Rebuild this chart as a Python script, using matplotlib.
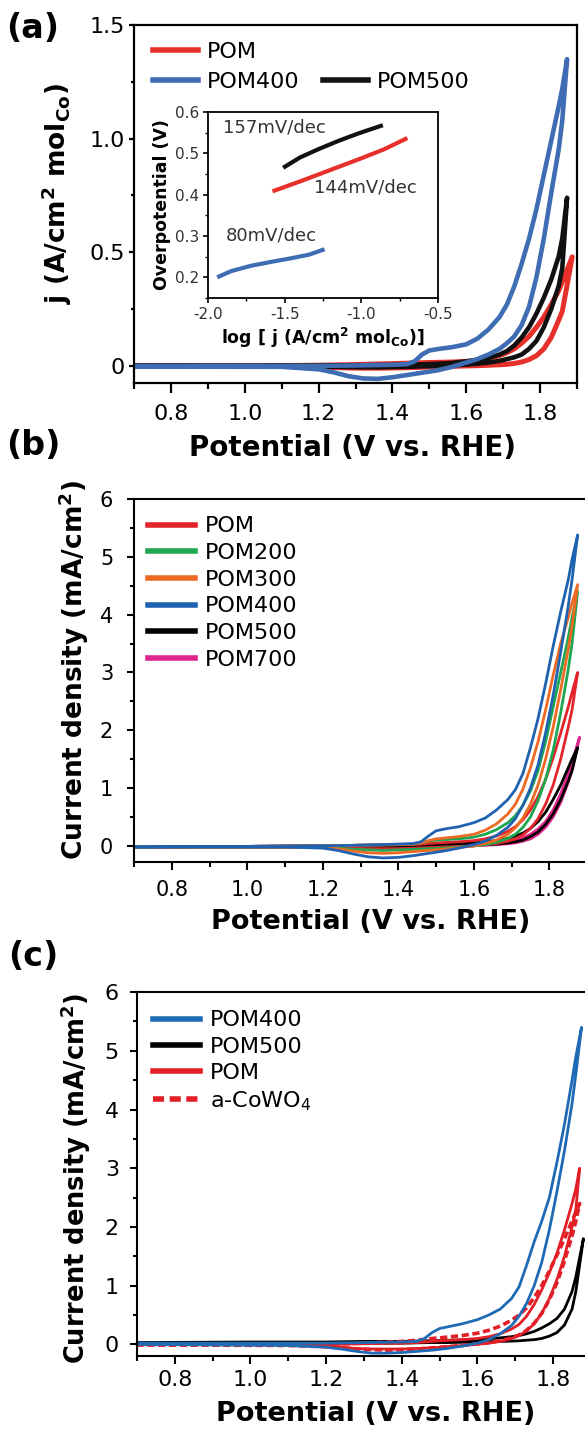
import numpy as np
import matplotlib
matplotlib.use("Agg")
import matplotlib.pyplot as plt
from matplotlib.lines import Line2D
from matplotlib.ticker import MultipleLocator

plt.rcParams['axes.unicode_minus'] = False
plt.rcParams['font.family'] = ['DejaVu Sans']

# potentials (V vs. RHE) of the anodic and cathodic sweeps
E_FWD = [0.70, 1.00, 1.20, 1.30, 1.40, 1.44, 1.46, 1.48, 1.50, 1.53,
         1.56, 1.60, 1.63, 1.66, 1.69, 1.71, 1.73, 1.75, 1.77, 1.79,
         1.81, 1.83, 1.85, 1.86]
E_REV = [1.86, 1.85, 1.83, 1.81, 1.79, 1.77, 1.75, 1.73, 1.71, 1.69,
         1.66, 1.63, 1.60, 1.56, 1.52, 1.48, 1.44, 1.40, 1.36, 1.32,
         1.28, 1.24, 1.20, 1.10, 0.70]

# (a) normalised CVs, A/cm2 molCo  (order: POM, POM500, POM400)
A_LABELS = ["POM", "POM500", "POM400"]
A_COLORS = ["#e8302a", "#111111", "#3f6db3"]
A_FWD = [
    [0.0, 0.0, 0.003, 0.006, 0.01, 0.012, 0.013, 0.014, 0.015, 0.016,
     0.017, 0.02, 0.025, 0.032, 0.045, 0.058, 0.075, 0.1, 0.13, 0.17,
     0.215, 0.27, 0.33, 0.37],
    [0.0, 0.0, 0.002, 0.003, 0.004, 0.005, 0.006, 0.007, 0.008, 0.01,
     0.013, 0.02, 0.026, 0.035, 0.05, 0.065, 0.09, 0.125, 0.17, 0.23,
     0.3, 0.38, 0.48, 0.56],
    [0.0, 0.0, 0.0, 0.002, 0.005, 0.008, 0.02, 0.05, 0.068, 0.076,
     0.082, 0.095, 0.12, 0.16, 0.215, 0.27, 0.35, 0.45, 0.56, 0.69,
     0.84, 0.99, 1.14, 1.22],
]
A_REV = [
    [0.24, 0.2, 0.125, 0.075, 0.045, 0.028, 0.017, 0.011, 0.007, 0.005,
     0.003, 0.001, 0.0, -0.002, -0.004, -0.006, -0.008, -0.009, -0.01,
     -0.01, -0.009, -0.007, -0.005, -0.002, 0.0],
    [0.43, 0.35, 0.25, 0.17, 0.11, 0.075, 0.05, 0.038, 0.03, 0.022,
     0.015, 0.01, 0.006, 0.002, 0.0, -0.002, -0.004, -0.005, -0.006,
     -0.006, -0.005, -0.004, -0.003, -0.001, 0.0],
    [1.08, 0.95, 0.76, 0.56, 0.39, 0.26, 0.18, 0.13, 0.1, 0.075,
     0.05, 0.03, 0.015, -0.005, -0.02, -0.03, -0.04, -0.05, -0.057,
     -0.055, -0.045, -0.028, -0.015, -0.004, -0.003],
]
A_VERTEX_E = [1.887, 1.873, 1.873]
A_VERTEX_J = [0.48, 0.74, 1.35]

# (a) inset, Tafel plots
TAFEL_LOGJ = [
    [-1.58, -1.40, -1.20, -1.00, -0.85, -0.70],
    [-1.51, -1.40, -1.28, -1.15, -1.02, -0.86],
    [-1.94, -1.85, -1.72, -1.58, -1.46, -1.34, -1.24],
]
TAFEL_ETA = [
    [0.408, 0.432, 0.46, 0.488, 0.51, 0.537],
    [0.465, 0.49, 0.51, 0.53, 0.548, 0.568],
    [0.20, 0.215, 0.228, 0.238, 0.246, 0.255, 0.268],
]
TAFEL_SLOPES = ["144mV/dec", "157mV/dec", "80mV/dec"]

# (b) CVs of the annealed series, mA/cm2
B_LABELS = ["POM", "POM200", "POM300", "POM400", "POM500", "POM700"]
B_COLORS = ["#e3242b", "#1ea650", "#ee6a24", "#1f63b0", "#000000", "#e0258c"]
B_FWD = [
    [-0.02, -0.01, 0.0, 0.01, 0.02, 0.025, 0.03, 0.04, 0.05, 0.06,
     0.07, 0.09, 0.12, 0.17, 0.25, 0.33, 0.45, 0.62, 0.85, 1.15,
     1.52, 1.95, 2.4, 2.65],
    [-0.02, -0.01, 0.0, 0.01, 0.02, 0.03, 0.05, 0.08, 0.1, 0.11,
     0.12, 0.15, 0.2, 0.28, 0.4, 0.52, 0.7, 0.95, 1.3, 1.8,
     2.4, 3.0, 3.6, 3.95],
    [-0.02, -0.01, 0.0, 0.01, 0.02, 0.03, 0.05, 0.09, 0.12, 0.14,
     0.16, 0.2, 0.27, 0.38, 0.55, 0.72, 0.98, 1.35, 1.8, 2.35,
     2.95, 3.5, 3.95, 4.2],
    [-0.02, -0.01, 0.0, 0.01, 0.03, 0.04, 0.07, 0.17, 0.26, 0.3,
     0.33, 0.4, 0.48, 0.62, 0.8, 0.97, 1.25, 1.7, 2.2, 2.8,
     3.45, 4.05, 4.6, 4.95],
    [-0.02, -0.01, 0.0, 0.01, 0.01, 0.015, 0.02, 0.02, 0.025, 0.03,
     0.035, 0.05, 0.07, 0.09, 0.13, 0.17, 0.22, 0.3, 0.42, 0.58,
     0.8, 1.05, 1.35, 1.5],
    [-0.02, -0.01, 0.0, 0.0, 0.0, 0.005, 0.01, 0.01, 0.01, 0.015,
     0.02, 0.03, 0.04, 0.055, 0.08, 0.1, 0.14, 0.2, 0.29, 0.42,
     0.62, 0.9, 1.25, 1.45],
]
B_REV = [
    [2.35, 2.05, 1.5, 1.05, 0.72, 0.47, 0.3, 0.19, 0.12, 0.08,
     0.04, 0.02, 0.0, -0.01, -0.02, -0.03, -0.04, -0.05, -0.05,
     -0.05, -0.04, -0.03, -0.02, -0.02, -0.02],
    [3.5, 3.05, 2.3, 1.65, 1.15, 0.78, 0.5, 0.32, 0.2, 0.13,
     0.06, 0.02, 0.0, -0.02, -0.04, -0.05, -0.06, -0.07, -0.08,
     -0.07, -0.06, -0.04, -0.03, -0.02, -0.02],
    [3.8, 3.4, 2.7, 2.05, 1.5, 1.05, 0.72, 0.48, 0.31, 0.2,
     0.1, 0.04, 0.0, -0.03, -0.06, -0.08, -0.1, -0.12, -0.13,
     -0.12, -0.09, -0.05, -0.03, -0.02, -0.02],
    [4.6, 4.15, 3.35, 2.6, 1.95, 1.4, 1.0, 0.7, 0.47, 0.32,
     0.18, 0.08, 0.02, -0.04, -0.09, -0.13, -0.17, -0.2, -0.21,
     -0.19, -0.14, -0.08, -0.04, -0.02, -0.02],
    [1.3, 1.12, 0.8, 0.55, 0.37, 0.24, 0.16, 0.1, 0.07, 0.05,
     0.03, 0.02, 0.015, 0.01, 0.005, 0.0, 0.0, -0.01, -0.01,
     -0.01, -0.01, -0.01, -0.02, -0.02, -0.02],
    [1.3, 1.1, 0.75, 0.5, 0.32, 0.2, 0.12, 0.08, 0.05, 0.035,
     0.02, 0.01, 0.0, 0.0, -0.01, -0.01, -0.01, -0.01, -0.01,
     -0.01, -0.01, -0.01, -0.02, -0.02, -0.02],
]
B_VERTEX_E = [1.875, 1.875, 1.875, 1.875, 1.875, 1.88]
B_VERTEX_J = [3.0, 4.4, 4.52, 5.38, 1.7, 1.88]
B_ORDER = [5, 4, 0, 1, 2, 3]

# (c) comparison with amorphous CoWO4, mA/cm2
C_LABELS = ["POM400", "POM500", "POM", "a-CoWO$_4$"]
C_COLORS = ["#1f6ab4", "#000000", "#e21f26", "#e21f26"]
C_STYLES = ["-", "-", "-", (0, (2, 1))]
C_FWD = [
    [0.02, 0.02, 0.02, 0.03, 0.04, 0.05, 0.1, 0.2, 0.27, 0.31,
     0.35, 0.42, 0.5, 0.6, 0.78, 0.98, 1.35, 1.75, 2.1, 2.5,
     3.1, 3.75, 4.5, 4.9],
    [0.03, 0.04, 0.04, 0.05, 0.05, 0.055, 0.06, 0.06, 0.065, 0.07,
     0.075, 0.085, 0.095, 0.11, 0.13, 0.15, 0.18, 0.22, 0.28, 0.35,
     0.44, 0.6, 0.9, 1.15],
    [0.0, 0.0, 0.0, 0.01, 0.02, 0.03, 0.04, 0.05, 0.06, 0.07,
     0.08, 0.1, 0.13, 0.18, 0.26, 0.34, 0.48, 0.68, 0.93, 1.22,
     1.55, 1.95, 2.4, 2.65],
    [0.0, 0.0, 0.0, 0.02, 0.05, 0.07, 0.08, 0.1, 0.11, 0.13,
     0.15, 0.19, 0.24, 0.31, 0.41, 0.5, 0.62, 0.8, 1.0, 1.25,
     1.52, 1.8, 2.1, 2.25],
]
C_REV = [
    [4.6, 4.1, 3.3, 2.6, 1.95, 1.4, 1.0, 0.7, 0.48, 0.32,
     0.18, 0.08, 0.02, -0.03, -0.07, -0.1, -0.12, -0.14, -0.15,
     -0.15, -0.12, -0.08, -0.05, -0.02, 0.0],
    [0.9, 0.6, 0.33, 0.2, 0.14, 0.1, 0.08, 0.07, 0.06, 0.055,
     0.05, 0.045, 0.04, 0.035, 0.03, 0.03, 0.025, 0.02, 0.02,
     0.02, 0.02, 0.02, 0.02, 0.02, 0.01],
    [2.3, 2.0, 1.5, 1.1, 0.78, 0.53, 0.35, 0.23, 0.15, 0.1,
     0.05, 0.02, 0.0, -0.02, -0.04, -0.06, -0.07, -0.08, -0.08,
     -0.08, -0.07, -0.05, -0.03, -0.01, 0.0],
    [2.1, 1.85, 1.42, 1.05, 0.76, 0.53, 0.36, 0.24, 0.16, 0.11,
     0.06, 0.03, 0.01, -0.02, -0.04, -0.06, -0.08, -0.09, -0.1,
     -0.09, -0.08, -0.06, -0.04, -0.02, -0.01],
]
C_VERTEX_E = [1.875, 1.88, 1.87, 1.87]
C_VERTEX_J = [5.4, 1.8, 3.0, 2.4]
C_ORDER = [1, 3, 2, 0]

X_TICKS = [0.8, 1.0, 1.2, 1.4, 1.6, 1.8]


def cv_loop(fwd, rev, e_vertex, j_vertex):
    """Join anodic sweep, vertex and cathodic sweep into one closed trace."""
    e = np.concatenate([E_FWD, [e_vertex], E_REV])
    j = np.concatenate([fwd, [j_vertex], rev])
    return e, j


def style_axes(ax, xmaj, xmin, ymaj, ymin, lw=1.5):
    for s in ax.spines.values():
        s.set_linewidth(lw)
    ax.tick_params(axis='x', which='major', direction='out', length=xmaj,
                   width=lw, labelsize=15, pad=6)
    ax.tick_params(axis='x', which='minor', direction='out', length=xmin,
                   width=lw)
    ax.tick_params(axis='y', which='major', direction='out', length=ymaj,
                   width=lw, labelsize=15)
    ax.tick_params(axis='y', which='minor', direction='out', length=ymin,
                   width=lw)
    ax.set_xlim(0.7, 1.9)
    ax.set_xticks(X_TICKS, [f"{t:.1f}" for t in X_TICKS])
    ax.xaxis.set_minor_locator(MultipleLocator(0.1))


fig = plt.figure(figsize=(5.85, 14.3), dpi=100)

# ---------------- (a) ----------------
ax_a = fig.add_axes([0.2291, 0.7322, 0.7573, 0.2503])
for i in range(3):
    e, j = cv_loop(A_FWD[i], A_REV[i], A_VERTEX_E[i], A_VERTEX_J[i])
    ax_a.plot(e, j, color=A_COLORS[i], lw=3.6 if i == 0 else 3.3,
              solid_joinstyle='round')
style_axes(ax_a, 7, 4, 3.5, 2, lw=1.6)
ax_a.tick_params(axis='both', which='major', labelsize=16)
ax_a.tick_params(axis='y', pad=3)
ax_a.tick_params(axis='x', pad=8)
ax_a.set_ylim(-0.075, 1.5)
ax_a.set_yticks([0, 0.5, 1.0, 1.5], ["0", "0.5", "1.0", "1.5"])
ax_a.yaxis.set_minor_locator(MultipleLocator(0.25))
ax_a.set_xlabel("Potential (V vs. RHE)", fontsize=20, fontweight='bold',
                va='center')
ax_a.xaxis.set_label_coords(0.494, -0.182)
ax_a.set_ylabel(r"j (A/cm$^{\mathbf{2}}$ mol$_{\mathbf{Co}}$)", fontsize=19,
                fontweight='bold', va='center')
ax_a.yaxis.set_label_coords(-0.174, 0.528)

leg_handles = [Line2D([], [], color=A_COLORS[0], lw=4),
               Line2D([], [], color=A_COLORS[2], lw=4),
               Line2D([], [], color='none'),
               Line2D([], [], color=A_COLORS[1], lw=4)]
leg_labels = ["POM", "POM400", "", "POM500"]
ax_a.legend(leg_handles, leg_labels, ncol=2, loc='upper left',
            bbox_to_anchor=(0.043, 0.952), frameon=False, fontsize=16,
            handlelength=2.0, handletextpad=0.4, columnspacing=1.1,
            labelspacing=0.45, borderpad=0, borderaxespad=0)

# inset with Tafel slopes
ax_in = fig.add_axes([0.3556, 0.7916, 0.3932, 0.1301])
for i in range(3):
    ax_in.plot(TAFEL_LOGJ[i], TAFEL_ETA[i], color=A_COLORS[i], lw=3,
               solid_capstyle='butt')
ax_in.set_xlim(-2.0, -0.5)
ax_in.set_ylim(0.15, 0.6)
ax_in.set_xticks([-2.0, -1.5, -1.0, -0.5])
ax_in.set_yticks([0.2, 0.3, 0.4, 0.5, 0.6])
ax_in.xaxis.set_minor_locator(MultipleLocator(0.25))
ax_in.yaxis.set_minor_locator(MultipleLocator(0.05))
for s in ax_in.spines.values():
    s.set_linewidth(1.3)
ax_in.tick_params(which='major', direction='out', length=3.5, width=1.2,
                  labelsize=11, pad=3, labelcolor='#333333')
ax_in.tick_params(which='minor', direction='out', length=2, width=1.0)
ax_in.set_xlabel(r"log [ j (A/cm$^{\mathbf{2}}$ mol$_{\mathbf{Co}}$)]",
                 fontsize=12.5, fontweight='bold', labelpad=3)
ax_in.set_ylabel("Overpotential (V)", fontsize=12.5, fontweight='bold',
                 labelpad=3)
ax_in.text(-0.976, 0.418, TAFEL_SLOPES[0], fontsize=13, color='#333333',
           ha='center', va='center')
ax_in.text(-1.57, 0.562, TAFEL_SLOPES[1], fontsize=13, color='#333333',
           ha='center', va='center')
ax_in.text(-1.59, 0.302, TAFEL_SLOPES[2], fontsize=13, color='#333333',
           ha='center', va='center')

# ---------------- (b) ----------------
# the frame runs off the right edge of the figure
ax_b = fig.add_axes([0.2291, 0.3972, 0.7745, 0.2538])
for i in B_ORDER:
    e, j = cv_loop(B_FWD[i], B_REV[i], B_VERTEX_E[i], B_VERTEX_J[i])
    ax_b.plot(e, j, color=B_COLORS[i], lw=2.0, solid_joinstyle='round')
style_axes(ax_b, 6, 3.5, 5, 3)
ax_b.tick_params(axis='y', pad=10)
ax_b.tick_params(axis='x', pad=7)
ax_b.set_ylim(-0.28, 6)
ax_b.set_yticks(range(0, 7))
ax_b.yaxis.set_minor_locator(MultipleLocator(0.5))
ax_b.set_xlabel("Potential (V vs. RHE)", fontsize=19.5, fontweight='bold',
                va='center')
ax_b.xaxis.set_label_coords(0.523, -0.165)
ax_b.set_ylabel(r"Current density (mA/cm$^{\mathbf{2}}$)", fontsize=19,
                fontweight='bold', va='center')
ax_b.yaxis.set_label_coords(-0.133, 0.529)
b_handles = [Line2D([], [], color=c, lw=4) for c in B_COLORS]
ax_b.legend(b_handles, B_LABELS, loc='upper left',
            bbox_to_anchor=(0.031, 0.952), frameon=False, fontsize=16,
            handlelength=2.1, handletextpad=0.45, labelspacing=0.3,
            borderpad=0, borderaxespad=0)

# ---------------- (c) ----------------
ax_c = fig.add_axes([0.2342, 0.0517, 0.776, 0.2545])
for i in C_ORDER:
    e, j = cv_loop(C_FWD[i], C_REV[i], C_VERTEX_E[i], C_VERTEX_J[i])
    ax_c.plot(e, j, color=C_COLORS[i], lw=2.6 if i == 3 else 2.0,
              linestyle=C_STYLES[i], solid_joinstyle='round')
style_axes(ax_c, 6, 3.5, 5, 3)
ax_c.tick_params(axis='y', pad=8)
ax_c.tick_params(axis='x', pad=4)
ax_c.tick_params(axis='both', which='major', labelsize=16)
ax_c.set_ylim(-0.2, 6)
ax_c.set_yticks(range(0, 7))
ax_c.yaxis.set_minor_locator(MultipleLocator(0.5))
ax_c.set_xlabel("Potential (V vs. RHE)", fontsize=19.5, fontweight='bold',
                va='center')
ax_c.xaxis.set_label_coords(0.525, -0.159)
ax_c.set_ylabel(r"Current density (mA/cm$^{\mathbf{2}}$)", fontsize=18.5,
                fontweight='bold', va='center')
ax_c.yaxis.set_label_coords(-0.136, 0.489)
c_handles = [Line2D([], [], color=C_COLORS[i], lw=4,
                    linestyle=C_STYLES[i]) for i in range(4)]
ax_c.legend(c_handles, C_LABELS, loc='upper left',
            bbox_to_anchor=(0.036, 0.95), frameon=False, fontsize=16,
            handlelength=2.1, handletextpad=0.45, labelspacing=0.28,
            borderpad=0, borderaxespad=0)

# panel letters
for label, ypx in [("(a)", 28), ("(b)", 446), ("(c)", 957)]:
    fig.text(33 / 585, 1 - ypx / 1430, label, fontsize=24, fontweight='bold',
             ha='center', va='center')

fig.savefig("out.png", dpi=100)
